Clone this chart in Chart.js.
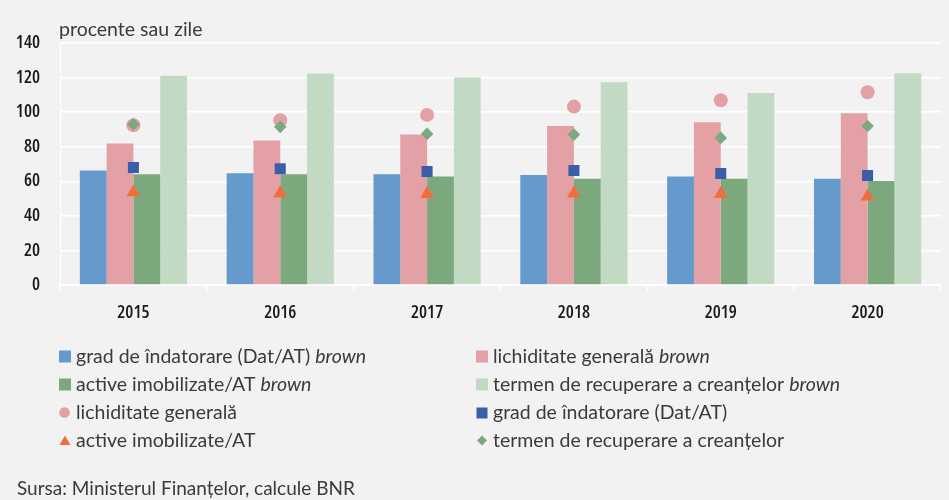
<!DOCTYPE html>
<html><head><meta charset="utf-8">
<script src="https://cdn.jsdelivr.net/npm/chart.js@4/dist/chart.umd.min.js"></script>
<style>html,body{margin:0;padding:0;background:#f2f2f2;}canvas{display:block;}</style>
</head><body>
<canvas id="c" width="949" height="500"></canvas>
<script>
const years = ['2015', '2016', '2017', '2018', '2019', '2020'];
const yTicks = [0, 20, 40, 60, 80, 100, 120, 140];
const gradBrown = [66.3, 64.7, 64.1, 63.7, 62.8, 61.4];
const lichBrown = [81.9, 83.6, 87.0, 92.0, 94.2, 99.4];
const activeBrown = [64.1, 64.1, 62.8, 61.4, 61.4, 60.1];
const termenBrown = [121.1, 122.3, 120.0, 117.3, 111.1, 122.5];
const lichTotal = [92.4, 95.3, 98.4, 103.2, 106.9, 111.5];
const gradTotal = [68.0, 67.2, 65.7, 66.3, 64.5, 63.4];
const activeTotal = [53.7, 53.1, 52.7, 53.0, 52.6, 51.2];
const termenTotal = [93.0, 91.5, 87.4, 87.0, 85.1, 92.0];

const TXT = '#3a3a3a';
const tickFont = {family: "'Open Sans', sans-serif", size: 18, weight: 'condensed 600'};
const LFONT = "Lato, 'Open Sans', sans-serif";

function barDs(label, data, color) {
  return {type: 'bar', label, data, backgroundColor: color, borderWidth: 0, order: 3,
          categoryPercentage: 0.73, barPercentage: 1.0};
}
function ptDs(label, data, color, style, r, order) {
  return {type: 'line', label, data, showLine: false, backgroundColor: color, borderColor: color,
          pointStyle: style, pointRadius: r, pointHoverRadius: r, pointBorderWidth: 0, order};
}

const datasets = [
  barDs('grad de îndatorare (Dat/AT) brown', gradBrown, '#6699cc'),
  barDs('lichiditate generală brown', lichBrown, '#e3a0a5'),
  barDs('active imobilizate/AT brown', activeBrown, '#7ba97d'),
  barDs('termen de recuperare a creanțelor brown', termenBrown, '#c2d9c4'),
  ptDs('lichiditate generală', lichTotal, '#e3a0a5', 'circle', 7, 2),
  ptDs('grad de îndatorare (Dat/AT)', gradTotal, '#3a5eaa', 'rect', 7.8, 1),
  ptDs('active imobilizate/AT', activeTotal, '#f26d3d', 'triangle', 8, 1),
  ptDs('termen de recuperare a creanțelor', termenTotal, '#7ba97d', 'rectRot', 6.3, 0)
];

const legendPlugin = {
  id: 'customLegend',
  beforeDraw(chart) {
    const ctx = chart.ctx;
    ctx.save();
    ctx.fillStyle = '#f2f2f2';
    ctx.fillRect(0, 0, chart.width, chart.height);
    ctx.restore();
  },
  afterDraw(chart) {
    const ctx = chart.ctx;
    const cols = [59, 476];
    const rowY = [356.5, 384.5, 412.5, 440.5];
    ctx.save();
    chart.data.datasets.forEach((ds, i) => {
      const x = cols[i % 2], y = rowY[Math.floor(i / 2)];
      ctx.fillStyle = ds.backgroundColor;
      const cx = x + 6;
      ctx.beginPath();
      if (ds.type === 'bar') {
        ctx.rect(x, y - 6, 12, 12);
      } else if (ds.pointStyle === 'circle') {
        ctx.arc(cx - 0.5, y, 5.3, 0, Math.PI * 2);
      } else if (ds.pointStyle === 'rect') {
        ctx.rect(x + 0.5, y - 5, 11, 11);
      } else if (ds.pointStyle === 'triangle') {
        ctx.moveTo(cx, y - 5); ctx.lineTo(cx + 5.5, y + 4.5); ctx.lineTo(cx - 5.5, y + 4.5); ctx.closePath();
      } else {
        ctx.moveTo(cx, y - 5); ctx.lineTo(cx + 5, y); ctx.lineTo(cx, y + 5); ctx.lineTo(cx - 5, y); ctx.closePath();
      }
      ctx.fill();
      let main = ds.label, it = '';
      if (main.endsWith(' brown')) { main = main.slice(0, -6) + ' '; it = 'brown'; }
      ctx.fillStyle = TXT;
      ctx.textBaseline = 'alphabetic';
      ctx.textAlign = 'left';
      ctx.font = '19.5px ' + LFONT;
      const tx = x + 17, ty = y + 6;
      ctx.fillText(main, tx, ty);
      if (it) {
        const w = ctx.measureText(main).width;
        ctx.font = 'italic 19.5px ' + LFONT;
        ctx.fillText(it, tx + w, ty);
      }
    });
    ctx.fillStyle = TXT;
    ctx.font = '19px ' + LFONT;
    ctx.fillText('Sursa: Ministerul Finanțelor, calcule BNR', 17, 495);
    ctx.font = '19.5px ' + LFONT;
    ctx.fillText('procente sau zile', 59, 36);
    ctx.restore();
  }
};

new Chart(document.getElementById('c'), {
  data: {labels: years, datasets},
  options: {
    responsive: false,
    animation: false,
    layout: {padding: {top: 43, left: 0, right: 2, bottom: 175}},
    plugins: {legend: {display: false}, tooltip: {enabled: false}},
    scales: {
      x: {
        offset: true,
        grid: {display: true, drawOnChartArea: false, drawTicks: true, tickLength: 6, color: '#ffffff', lineWidth: 1.5},
        border: {display: true, color: '#ffffff', width: 1.5},
        ticks: {font: tickFont, color: '#1a1a1a', padding: 11},
        afterFit(s) { s.height = 40; }
      },
      y: {
        min: 0, max: 140,
        afterBuildTicks(s) { s.ticks = yTicks.map(v => ({value: v})); },
        grid: {color: '#ffffff', lineWidth: 1.5, drawTicks: false},
        border: {display: true, color: '#ffffff', width: 1},
        ticks: {font: tickFont, color: '#1a1a1a', padding: 20},
        afterFit(s) { s.width = 60; }
      }
    }
  },
  plugins: [legendPlugin]
});
</script>
</body></html>
